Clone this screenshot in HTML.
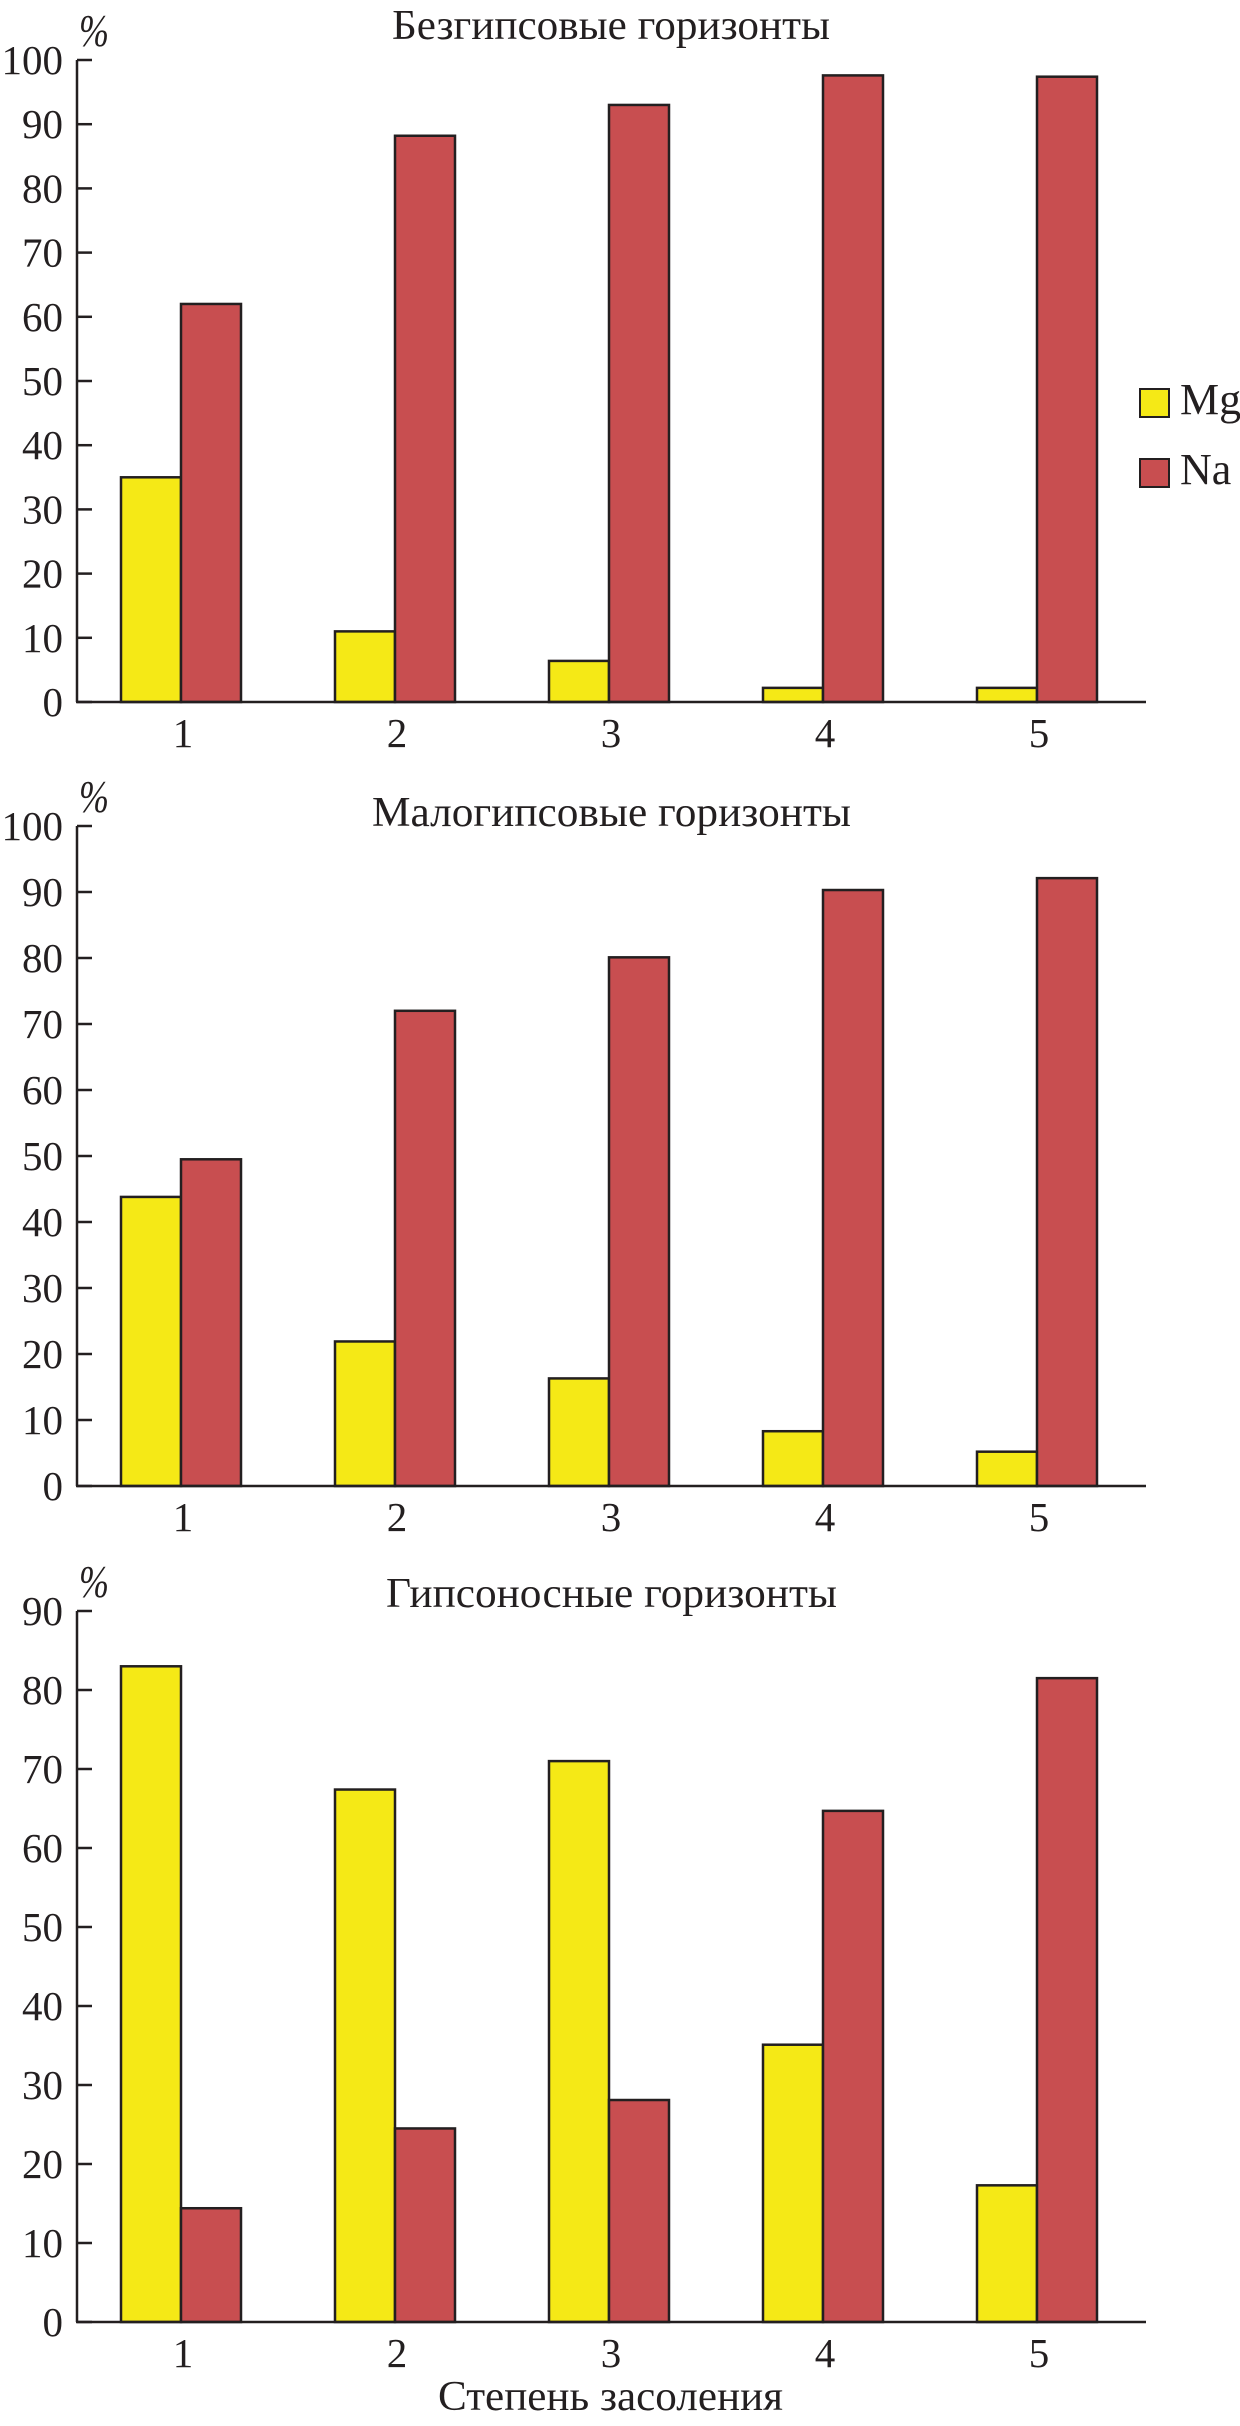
<!DOCTYPE html>
<html><head><meta charset="utf-8"><style>
html,body{margin:0;padding:0;background:#fff;}
svg{display:block;}
text{font-family:"Liberation Serif",serif;fill:#231f20;}
</style></head><body>
<svg id="fig" width="1240" height="2426" viewBox="0 0 1240 2426"></svg>
<script>
const categories = ["1","2","3","4","5"];
const mg1 = [35, 11, 6.4, 2.2, 2.2];
const na1 = [62, 88.2, 93, 97.6, 97.4];
const mg2 = [43.8, 21.9, 16.3, 8.3, 5.2];
const na2 = [49.5, 72, 80.1, 90.3, 92.1];
const mg3 = [83, 67.4, 71, 35.1, 17.3];
const na3 = [14.4, 24.5, 28.1, 64.7, 81.5];
const ticks1 = [0,10,20,30,40,50,60,70,80,90,100];
const ticks2 = [0,10,20,30,40,50,60,70,80,90,100];
const ticks3 = [0,10,20,30,40,50,60,70,80,90];
const titles = ["Безгипсовые горизонты","Малогипсовые горизонты","Гипсоносные горизонты"];
const seriesNames = ["Mg","Na"];

const NS="http://www.w3.org/2000/svg";
const svg=document.getElementById('fig');
function mk(tag,attrs,parent){const e=document.createElementNS(NS,tag);for(const k in attrs)e.setAttribute(k,attrs[k]);(parent||svg).appendChild(e);return e;}

const AX=77, AXEND=1146, BW=60;
function xCenter(i){return 181+i*214;}
const panels=[
 {mg:mg1,na:na1,ticks:ticks1,max:100,zero:702,top:60,title:titles[0],tx:392,tw:438,ty:39,py:46},
 {mg:mg2,na:na2,ticks:ticks2,max:100,zero:1486,top:826,title:titles[1],tx:372,tw:479,ty:826,py:812},
 {mg:mg3,na:na3,ticks:ticks3,max:90,zero:2322,top:1611,title:titles[2],tx:386,tw:451,ty:1607,py:1597}
];
panels.forEach((p,pi)=>{
  const g=mk('g',{});
  
  
  const y=v=>p.zero-(v/p.max)*(p.zero-p.top);
  const t=mk('text',{x:p.tx,y:p.ty,'font-size':42,textLength:p.tw,lengthAdjust:'spacingAndGlyphs'},g);
  t.textContent=p.title;
  
  
  const pc=mk('text',{x:79,y:p.py,'font-size':46,'font-style':'italic',textLength:30,lengthAdjust:'spacingAndGlyphs'},g);
  pc.textContent='%';
  
  
  p.mg.forEach((v,i)=>{
    const r=mk('rect',{x:xCenter(i)-BW,y:y(v),width:BW,height:p.zero-y(v),fill:'#f5e916',stroke:'#231f20','stroke-width':2.5},g);
    
    
  });
  p.na.forEach((v,i)=>{
    const r=mk('rect',{x:xCenter(i),y:y(v),width:BW,height:p.zero-y(v),fill:'#c84e50',stroke:'#231f20','stroke-width':2.5},g);
    
    
  });
  const ya=mk('line',{x1:AX,y1:p.top,x2:AX,y2:p.zero,stroke:'#231f20','stroke-width':2.5},g);
  
  
  const xa=mk('line',{x1:AX-1,y1:p.zero,x2:AXEND,y2:p.zero,stroke:'#231f20','stroke-width':2.5},g);
  
  
  p.ticks.forEach(tv=>{
    const ty=y(tv);
    const tl=mk('line',{x1:AX,y1:ty,x2:92,y2:ty,stroke:'#231f20','stroke-width':2.5},g);
    
    
    const lab=mk('text',{x:63,y:ty+14,'font-size':41,'text-anchor':'end'},g);
    lab.textContent=String(tv);
    
    
  });
  categories.forEach((c,i)=>{
    const lab=mk('text',{x:xCenter(i)+2,y:p.zero+45,'font-size':41,'text-anchor':'middle'},g);
    lab.textContent=c;
    
    
  });
});
const lg=mk('g',{});


[['#f5e916',389,414],['#c84e50',459,484]].forEach((d,i)=>{
  const r=mk('rect',{x:1140,y:d[1],width:29,height:28,fill:d[0],stroke:'#231f20','stroke-width':2},lg);
  
  
  const t=mk('text',{x:1180,y:d[2],'font-size':44},lg);
  t.textContent=seriesNames[i];
  
  
});
const xt=mk('text',{x:438,y:2410,'font-size':42,textLength:345,lengthAdjust:'spacingAndGlyphs'});
xt.textContent='Степень засоления';


</script>
</body></html>
